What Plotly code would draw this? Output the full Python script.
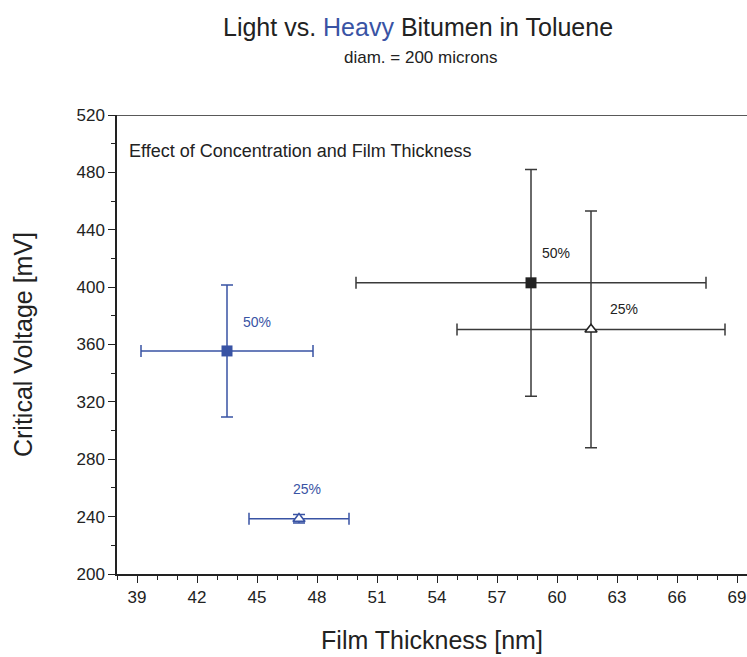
import plotly.graph_objects as go

# Film thickness (nm) and critical voltage (mV) with their spreads
labels = ["50%", "25%"]

light_thickness = [58.7, 61.7]
light_thickness_err = [8.75, 6.7]
light_voltage = [403.0, 370.5]
light_voltage_err = [79.0, 82.5]

heavy_thickness = [43.5, 47.1]
heavy_thickness_err = [4.3, 2.5]
heavy_voltage = [355.5, 238.5]
heavy_voltage_err = [46.0, 3.0]

# where each concentration label sits
light_label_x = [59.95, 63.35]
light_label_y = [424.0, 385.0]
heavy_label_x = [45.0, 47.5]
heavy_label_y = [375.5, 259.5]

x_ticks = [39, 42, 45, 48, 51, 54, 57, 60, 63, 66, 69]
y_ticks = [200, 240, 280, 320, 360, 400, 440, 480, 520]

DARK = "#222222"
BAR_DARK = "#3a3a3a"
BLUE = "#3953a4"
FONT = "Liberation Sans, Arial, sans-serif"

fig = go.Figure()


def add_point(x, xe, y, ye, symbol, fill, line_col, bar_col):
    fig.add_trace(go.Scatter(
        x=[x], y=[y], mode="markers",
        marker=dict(symbol=symbol, size=11 if symbol == "square" else 10.5,
                    color=fill, line=dict(color=line_col, width=1.6 if symbol != "square" else 0)),
        error_x=dict(type="data", array=[xe], color=bar_col, thickness=1.5, width=6),
        error_y=dict(type="data", array=[ye], color=bar_col, thickness=1.5, width=6),
        showlegend=False, hoverinfo="x+y",
    ))


# light bitumen: filled square (50%) and open triangle (25%)
add_point(light_thickness[0], light_thickness_err[0], light_voltage[0], light_voltage_err[0],
          "square", DARK, DARK, BAR_DARK)
add_point(light_thickness[1], light_thickness_err[1], light_voltage[1], light_voltage_err[1],
          "triangle-up", "white", DARK, BAR_DARK)

# heavy bitumen in blue
add_point(heavy_thickness[0], heavy_thickness_err[0], heavy_voltage[0], heavy_voltage_err[0],
          "square", BLUE, BLUE, BLUE)
add_point(heavy_thickness[1], heavy_thickness_err[1], heavy_voltage[1], heavy_voltage_err[1],
          "triangle-up", "white", BLUE, BLUE)

annotations = []
for lx, ly, t in zip(light_label_x, light_label_y, labels):
    annotations.append(dict(x=lx, y=ly, text=t, showarrow=False, xref="x", yref="y",
                            font=dict(size=14, color=DARK, family=FONT)))
for lx, ly, t in zip(heavy_label_x, heavy_label_y, labels):
    annotations.append(dict(x=lx, y=ly, text=t, showarrow=False, xref="x", yref="y",
                            font=dict(size=14, color=BLUE, family=FONT)))

annotations += [
    dict(x=0.478, y=1.192, xref="paper", yref="paper", showarrow=False,
         text="Light vs. <span style='color:%s'>Heavy</span> Bitumen in Toluene" % BLUE,
         font=dict(size=25, color=DARK, family=FONT), yanchor="middle"),
    dict(x=0.483, y=1.126, xref="paper", yref="paper", showarrow=False,
         text="diam. = 200 microns", font=dict(size=17, color=DARK, family=FONT), yanchor="middle"),
    dict(x=0.0164, y=0.922, xref="paper", yref="paper", showarrow=False, xanchor="left",
         yanchor="middle", text="Effect of Concentration and Film Thickness",
         font=dict(size=18, color=DARK, family=FONT)),
]

fig.update_layout(
    width=747, height=657,
    margin=dict(l=117, r=0, t=115, b=83),
    plot_bgcolor="white", paper_bgcolor="white",
    font=dict(family=FONT, color=DARK),
    annotations=annotations,
    shapes=[dict(type="line", xref="paper", yref="y", x0=0, x1=1, y0=520, y1=520,
                 line=dict(color=DARK, width=1.5))],
    xaxis=dict(
        range=[38, 69.5], tickvals=x_ticks, ticktext=[str(v) for v in x_ticks],
        showgrid=False, zeroline=False, showline=True, linecolor=DARK, linewidth=1.5,
        ticks="outside", ticklen=7, tickwidth=1.3, tickcolor=DARK,
        tickfont=dict(size=17, color=DARK, family=FONT),
        minor=dict(dtick=1, tick0=38, ticks="outside", ticklen=4, tickwidth=1.2, tickcolor=DARK),
        title=dict(text="Film Thickness [nm]", font=dict(size=25, color=DARK, family=FONT), standoff=25),
    ),
    yaxis=dict(
        range=[200, 520], tickvals=y_ticks, ticktext=[str(v) for v in y_ticks],
        showgrid=False, zeroline=False, showline=True, linecolor=DARK, linewidth=1.5,
        ticks="outside", ticklen=7, tickwidth=1.3, tickcolor=DARK,
        tickfont=dict(size=17, color=DARK, family=FONT),
        minor=dict(dtick=20, tick0=200, ticks="outside", ticklen=4, tickwidth=1.2, tickcolor=DARK),
        title=dict(text="Critical Voltage [mV]", font=dict(size=25, color=DARK, family=FONT), standoff=37),
    ),
)

fig.write_html("out.html")
